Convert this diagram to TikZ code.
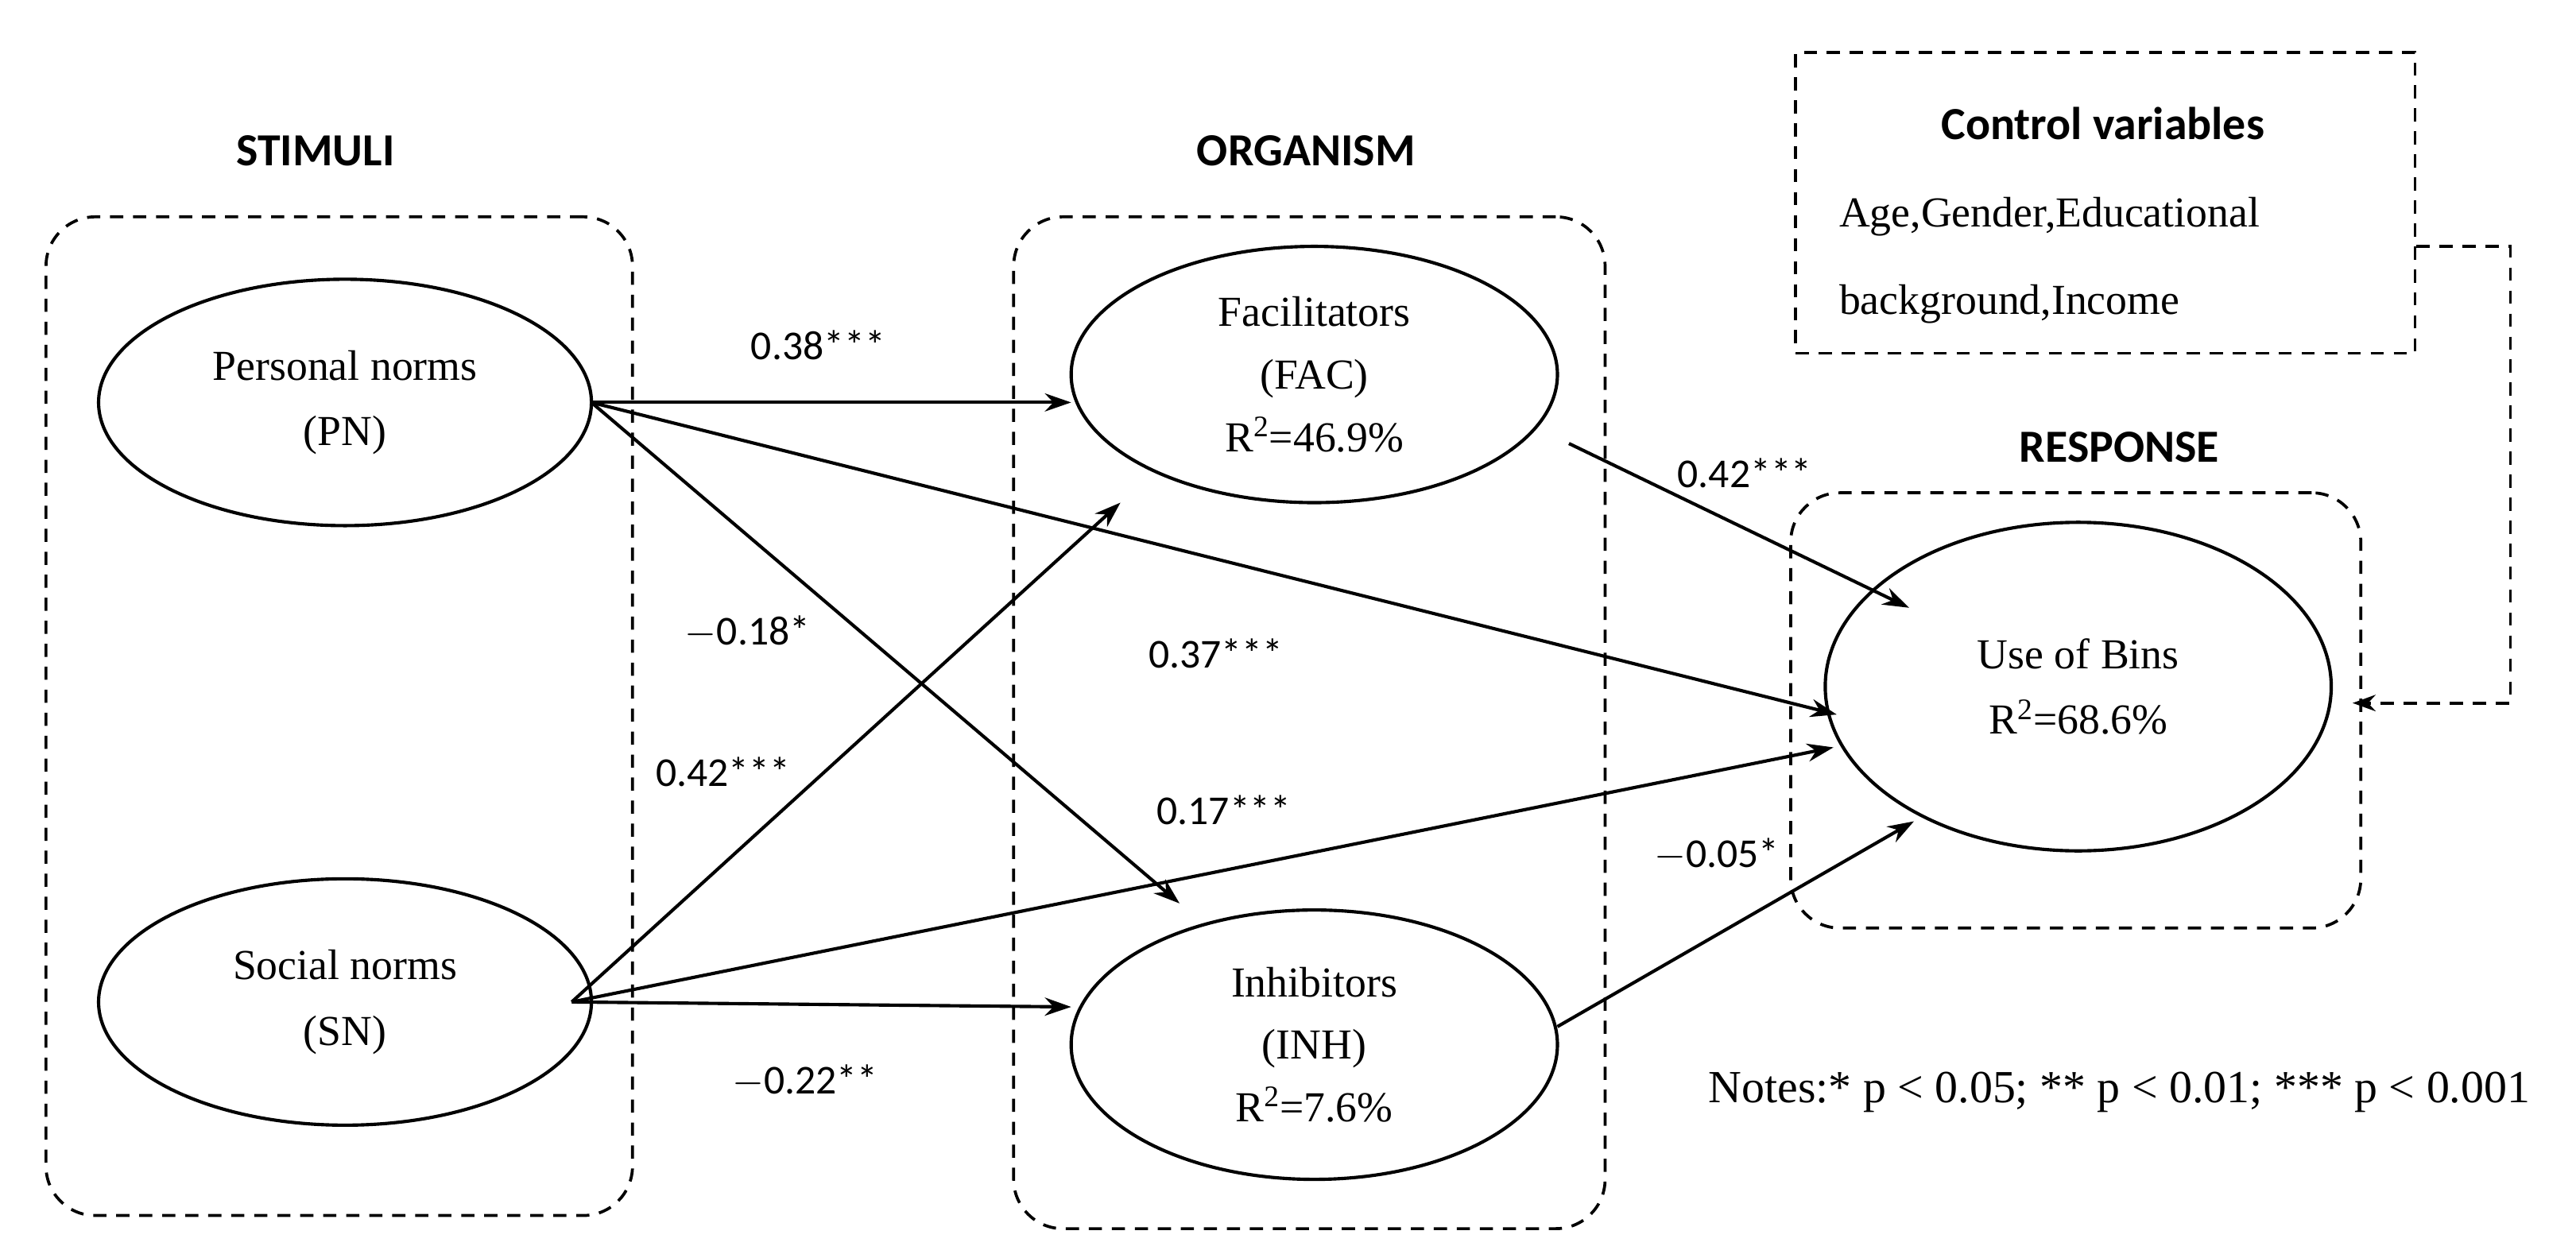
\documentclass[tikz,border=0pt]{standalone}
\usepackage{fontspec}
\setmainfont{Liberation Serif}
\newfontfamily\lab{Carlito}
\usetikzlibrary{arrows.meta,shapes.geometric}
\begin{document}
\begin{tikzpicture}[x=1pt,y=-1pt,
  box/.style={draw,dashed,line width=1.8pt,rounded corners=30pt,dash pattern=on 8pt off 6pt},
  ell/.style={draw,ellipse,line width=2pt,align=center,font=\fontsize{26}{40}\selectfont},
  head/.style={font=\lab\bfseries\fontsize{28}{32}\selectfont},
  el/.style={font=\lab\fontsize{25}{30}\selectfont},
  arr/.style={line width=2pt,-{Stealth[length=16pt,width=11pt]}}]
\useasboundingbox (0,0) rectangle (1568,763);
\fill[white] (0,0) rectangle (1568,763);
\node[box,minimum width=357pt,minimum height=608pt] (sbox) at (206.5,436) {};
\node[box,minimum width=360pt,minimum height=616pt] (obox) at (797,440) {};
\node[box,minimum width=347pt,minimum height=265pt] (rbox) at (1263.5,432.5) {};
\node[draw,dashed,line width=1.8pt,dash pattern=on 8pt off 6pt,minimum width=377pt,minimum height=183pt] (cbox) at (1281.5,123.5) {};
\node[head] (st) at (192,92) {STIMULI};
\node[head] (or) at (795,92) {ORGANISM};
\node[head] (re) at (1290,272) {RESPONSE};
\node[head] (ct) at (1280,75) {Control variables};
\node[anchor=west,font=\fontsize{26}{30}\selectfont] (c1) at (1116,132) {Age,Gender,Educational};
\node[anchor=west,font=\fontsize{26}{30}\selectfont] (c2) at (1116,185) {background,Income};
\node[ell,minimum width=300pt,minimum height=150pt] (pn) at (210,245) {Personal norms\\(PN)};
\node[ell,minimum width=300pt,minimum height=150pt] (sn) at (210,610) {Social norms\\(SN)};
\node[ell,minimum width=296pt,minimum height=156pt,font=\fontsize{26}{38}\selectfont] (fac) at (800,228) {Facilitators\\(FAC)\\R\textsuperscript{2}=46.9\%};
\node[ell,minimum width=296pt,minimum height=164pt,font=\fontsize{26}{38}\selectfont] (inh) at (800,636) {Inhibitors\\(INH)\\R\textsuperscript{2}=7.6\%};
\node[ell,minimum width=308pt,minimum height=200pt] (ub) at (1265,418) {Use of Bins\\R\textsuperscript{2}=68.6\%};
\node[font=\fontsize{28}{32}\selectfont] (nt) at (1290,665) {Notes:* p < 0.05; ** p < 0.01; *** p < 0.001};
\coordinate (pa) at (360,245);
\coordinate (sa) at (348,610);
\draw[arr] (pa) -- (652,245);
\draw[arr] (pa) -- (1118,435);
\draw[arr] (pa) -- (718,550);
\draw[arr] (sa) -- (682,306);
\draw[arr] (sa) -- (1116,455);
\draw[arr] (sa) -- (652,613);
\draw[arr] (955,270) -- (1162,370);
\draw[arr] (948,625) -- (1165,500);
\coordinate (k1) at (1528,150);
\coordinate (k2) at (1528,428);
\draw[line width=1.8pt,dash pattern=on 8pt off 6pt,-{Stealth[length=14pt,width=10pt]}] (cbox.east |- k1) -- (k1) -- (k2) -- (1432,428);
\node[el] (l1) at (498,210) {0.38***};
\node[el] (l2) at (740,398) {0.37***};
\node[el] (l3) at (455,385) {$-$0.18*};
\node[el] (l4) at (440,470) {0.42***};
\node[el] (l5) at (745,493) {0.17***};
\node[el] (l6) at (490,658) {$-$0.22**};
\node[el] (l7) at (1062,288) {0.42***};
\node[el] (l8) at (1045,520) {$-$0.05*};
\end{tikzpicture}
\end{document}
